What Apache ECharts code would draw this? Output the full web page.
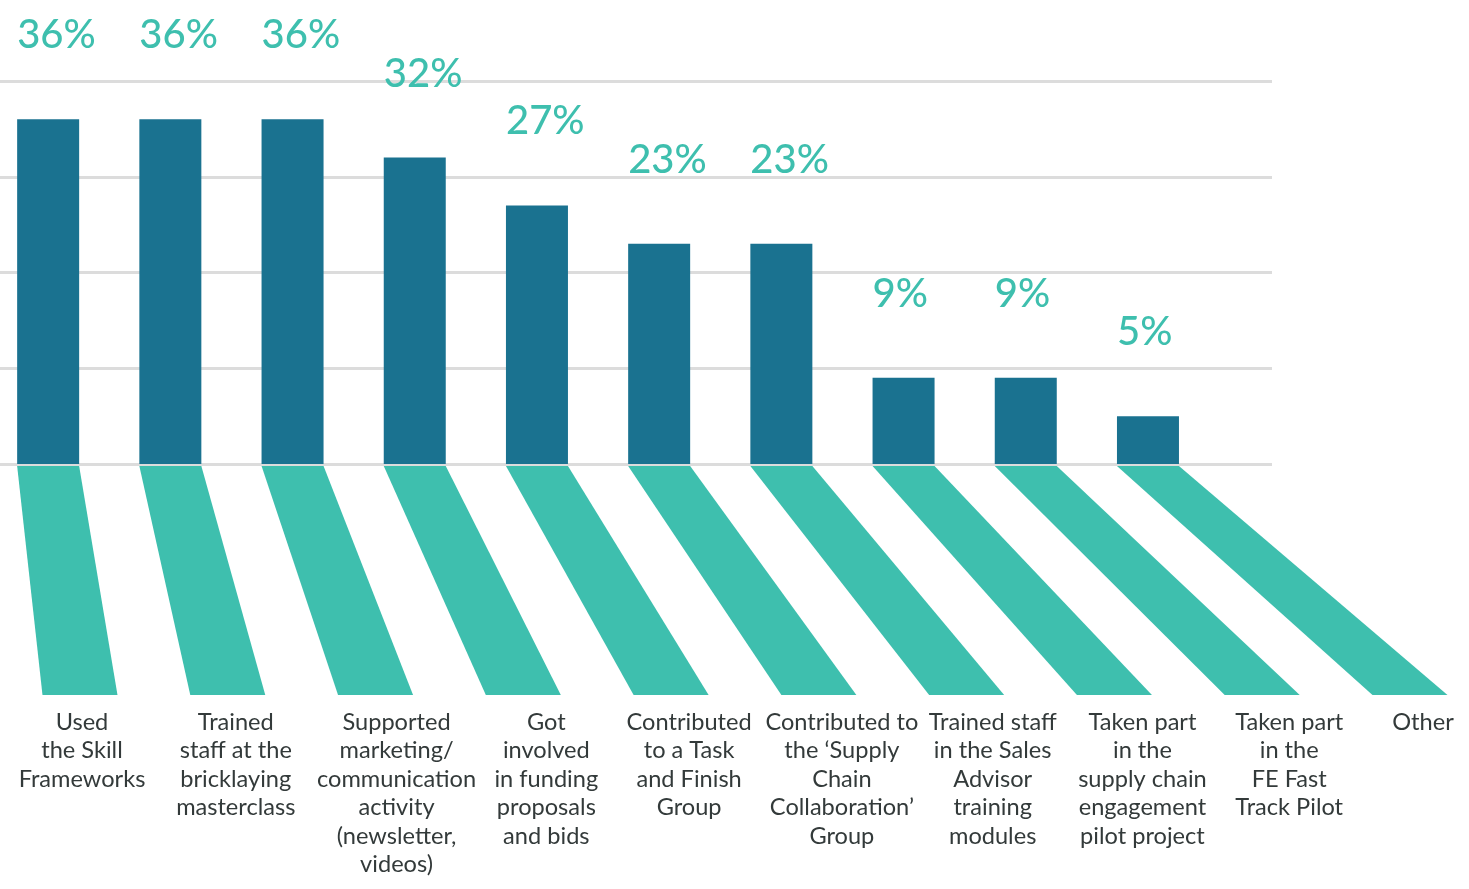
<!DOCTYPE html>
<html>
<head>
<meta charset="utf-8">
<script src="https://cdn.jsdelivr.net/npm/echarts@6/dist/echarts.min.js"></script>
<style>
  html, body { margin: 0; padding: 0; background: #ffffff; }
  #chart { width: 1469px; height: 889px; }
</style>
</head>
<body>
<div id="chart"></div>
<script>
// Activities taken part in (share of respondents, %)
const categories = [
  'Used\nthe Skill\nFrameworks',
  'Trained\nstaff at the\nbricklaying\nmasterclass',
  'Supported\nmarketing/\ncommunication\nactivity\n(newsletter,\nvideos)',
  'Got\ninvolved\nin funding\nproposals\nand bids',
  'Contributed\nto a Task\nand Finish\nGroup',
  'Contributed to\nthe \u2018Supply\nChain\nCollaboration\u2019\nGroup',
  'Trained staff\nin the Sales\nAdvisor\ntraining\nmodules',
  'Taken part\nin the\nsupply chain\nengagement\npilot project',
  'Taken part\nin the\nFE Fast\nTrack Pilot',
  'Other'
];
const values = [36, 36, 36, 32, 27, 23, 23, 9, 9, 5];

const BAR_COLOR = '#1a7290';
const ACCENT = '#3ebfae';
const FONT = 'Lato, "Open Sans", sans-serif';
const BAR_W = 62;
const FOOT_W = 75;
// how far each caption sits to the right of its ribbon foot (px)
const captionNudge = [2, 8, 21, 23, 18, 23, 26, 28, 27, 13];

const chart = echarts.init(document.getElementById('chart'), null, { renderer: 'canvas' });

const option = {
  animation: false,
  backgroundColor: '#ffffff',
  grid: [
    // bars and rule lines
    { left: 0, top: 81, width: 1272, height: 383 },
    // ribbon feet and category captions (points, not bands)
    { left: 80, width: 1330, top: 466, height: 229 }
  ],
  xAxis: [
    { type: 'value', gridIndex: 0, min: -0.394, max: 10.015, show: false },
    {
      type: 'category', gridIndex: 1, boundaryGap: false,
      data: categories.map((c, i) => ({
        value: c,
        textStyle: { padding: [0, 0, 0, captionNudge[i] * 2] }
      })),
      axisLine: { show: false }, axisTick: { show: false }, splitLine: { show: false },
      axisLabel: {
        interval: 0, margin: 13, color: '#333a3a',
        fontFamily: FONT, fontSize: 23.6, lineHeight: 28.5
      }
    }
  ],
  yAxis: [
    {
      type: 'value', gridIndex: 0, min: 0, max: 40, interval: 10,
      axisLine: { show: false }, axisTick: { show: false }, axisLabel: { show: false },
      splitLine: { show: true, lineStyle: { color: '#dcdcdc', width: 3 } }
    },
    { type: 'value', gridIndex: 1, min: 0, max: 1, show: false }
  ],
  series: [
    {
      type: 'bar',
      xAxisIndex: 0, yAxisIndex: 0,
      barWidth: BAR_W,
      data: values.map((v, i) => [i, v]),
      itemStyle: { color: BAR_COLOR },
      label: {
        show: true,
        position: [0, -84],
        align: 'left',
        verticalAlign: 'middle',
        formatter: p => p.value[1] + '%',
        color: ACCENT,
        fontFamily: FONT,
        fontSize: 40,
        fontWeight: 500
      },
      silent: true
    },
    {
      // slanted ribbons joining each bar to its caption
      type: 'custom',
      xAxisIndex: 1, yAxisIndex: 1,
      silent: true,
      clip: false,
      data: categories.map((c, i) => [i]),
      encode: { x: 0 },
      renderItem: function (params, api) {
        const i = api.value(0);
        const bottom = api.coord([i, 0]);
        const topY = api.coord([i, 1])[1];
        const topX = chart.convertToPixel({ gridIndex: 0 }, [i, 0])[0];
        return {
          type: 'polygon',
          shape: {
            points: [
              [topX - BAR_W / 2, topY],
              [topX + BAR_W / 2, topY],
              [bottom[0] + FOOT_W / 2, bottom[1]],
              [bottom[0] - FOOT_W / 2, bottom[1]]
            ]
          },
          style: { fill: ACCENT }
        };
      }
    }
  ]
};

chart.setOption(option);
</script>
</body>
</html>
